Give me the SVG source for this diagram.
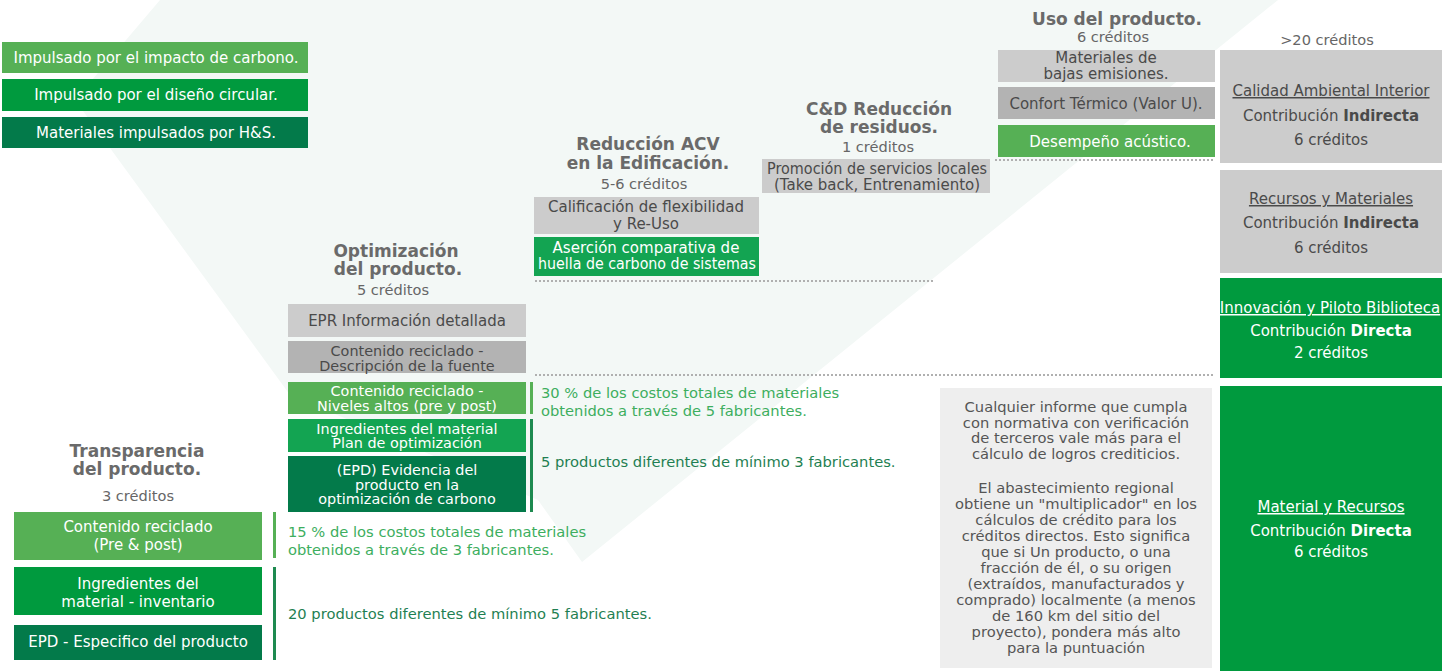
<svg xmlns="http://www.w3.org/2000/svg" width="1448" height="671" viewBox="0 0 1448 671">
<style>
text{font-family:"DejaVu Sans","Liberation Sans",sans-serif}
.hd{font-weight:bold;fill:#6a6a6a;font-size:17px;text-anchor:middle}
.cr{fill:#666;font-size:14.6px;text-anchor:middle}
.w{fill:#fff;font-size:15px;text-anchor:middle}
.g{fill:#4a4a4a;font-size:15px;text-anchor:middle}
.s{font-size:14.4px}
.lg{fill:#56b055}.mg{fill:#009a3e}.bg{fill:#13a452}.dg{fill:#037a4a}.lgr{fill:#cccccc}.dgr{fill:#b3b3b3}
.tl{fill:#3dae5e;font-size:14.7px}.td{fill:#1f7f52;font-size:14.7px}
.dot{stroke:#b0b0b0;stroke-width:2;stroke-dasharray:2 2;fill:none}
.nt{fill:#555;font-size:14.7px;text-anchor:middle}
.u{text-decoration:underline}
</style>
<rect width="1448" height="671" fill="#ffffff"/>
<polygon points="160,0 1278,0 582,562 538,500 290,395 75,100" fill="#f3f8f6"/>

<g id="legend">
<rect class="lg" x="2" y="42" width="306" height="31"/>
<text class="w" x="156" y="63">Impulsado por el impacto de carbono.</text>
<rect class="mg" x="2" y="79" width="306" height="32"/>
<text class="w" x="156" y="100">Impulsado por el diseño circular.</text>
<rect class="dg" x="2" y="117" width="306" height="31"/>
<text class="w" x="156" y="138">Materiales impulsados por H&amp;S.</text>
</g>

<g id="transparencia">
<text class="hd" x="137" y="457">Transparencia</text>
<text class="hd" x="137" y="475">del producto.</text>
<text class="cr" x="138" y="501">3 créditos</text>
<rect class="lg" x="14" y="512" width="248" height="48"/>
<text class="w" x="138" y="532">Contenido reciclado</text>
<text class="w" x="138" y="550">(Pre &amp; post)</text>
<rect class="mg" x="14" y="567" width="248" height="48"/>
<text class="w" x="138" y="589">Ingredientes del</text>
<text class="w" x="138" y="607">material - inventario</text>
<rect class="dg" x="14" y="625" width="248" height="35"/>
<text class="w" x="138" y="647">EPD - Especifico del producto</text>
</g>

<g id="transparencia-req">
<rect x="273" y="512" width="3" height="46" fill="#56b055"/>
<rect x="273" y="567" width="3" height="93" fill="#1e8a50"/>
<text class="tl" x="288" y="537">15 % de los costos totales de materiales</text>
<text class="tl" x="288" y="555">obtenidos a través de 3 fabricantes.</text>
<text class="td" x="288" y="619">20 productos diferentes de mínimo 5 fabricantes.</text>
</g>

<g id="optimizacion">
<text class="hd" x="396" y="257">Optimización</text>
<text class="hd" x="398" y="275">del producto.</text>
<text class="cr" x="393" y="295">5 créditos</text>
<rect class="lgr" x="288" y="304" width="238" height="33"/>
<text class="g" x="407" y="326">EPR Información detallada</text>
<rect class="dgr" x="288" y="341" width="238" height="32"/>
<text class="g s" x="407" y="356">Contenido reciclado -</text>
<text class="g s" x="407" y="370.5">Descripción de la fuente</text>
<rect class="lg" x="288" y="382" width="238" height="32"/>
<text class="w s" x="407" y="396">Contenido reciclado -</text>
<text class="w s" x="407" y="410.5">Niveles altos (pre y post)</text>
<rect class="bg" x="288" y="419" width="238" height="33"/>
<text class="w s" x="407" y="433.5">Ingredientes del material</text>
<text class="w s" x="407" y="448">Plan de optimización</text>
<rect class="dg" x="288" y="456" width="238" height="56"/>
<text class="w s" x="407" y="475">(EPD) Evidencia del</text>
<text class="w s" x="407" y="489.5">producto en la</text>
<text class="w s" x="407" y="504">optimización de carbono</text>
</g>

<g id="optimizacion-req">
<rect x="530" y="382" width="3" height="32" fill="#56b055"/>
<rect x="530" y="419" width="3" height="93" fill="#1e8a50"/>
<text class="tl" x="541" y="398">30 % de los costos totales de materiales</text>
<text class="tl" x="541" y="416">obtenidos a través de 5 fabricantes.</text>
<text class="td" x="541" y="467">5 productos diferentes de mínimo 3 fabricantes.</text>
</g>

<g id="reduccion-acv">
<text class="hd" x="648" y="150">Reducción ACV</text>
<text class="hd" x="648" y="169">en la Edificación.</text>
<text class="cr" x="644" y="189">5-6 créditos</text>
<rect class="lgr" x="534" y="197" width="225" height="37"/>
<text class="g" x="646" y="212">Calificación de flexibilidad</text>
<text class="g" x="646" y="228.5">y Re-Uso</text>
<rect class="bg" x="534" y="237" width="225" height="39"/>
<text class="w" x="646" y="253" font-size="14.5">Aserción comparativa de</text>
<text class="w" x="647" y="268.5" font-size="14" textLength="218" lengthAdjust="spacingAndGlyphs">huella de carbono de sistemas</text>
</g>

<g id="cd-residuos">
<text class="hd" x="879" y="115">C&amp;D Reducción</text>
<text class="hd" x="879" y="133">de residuos.</text>
<text class="cr" x="878" y="152">1 créditos</text>
<rect class="lgr" x="762" y="159" width="228" height="34"/>
<text class="g" x="877" y="174" font-size="14" textLength="220" lengthAdjust="spacingAndGlyphs">Promoción de servicios locales</text>
<text class="g" x="877" y="190" font-size="14">(Take back, Entrenamiento)</text>
</g>

<g id="uso-producto">
<text class="hd" x="1117" y="25">Uso del producto.</text>
<text class="cr" x="1113" y="42">6 créditos</text>
<rect class="lgr" x="998" y="50" width="217" height="32"/>
<text class="g" x="1106" y="63" font-size="13.5">Materiales de</text>
<text class="g" x="1106" y="78.5" font-size="13.5">bajas emisiones.</text>
<rect class="dgr" x="998" y="87" width="217" height="32"/>
<text class="g" x="1106" y="109">Confort Térmico (Valor U).</text>
<rect class="lg" x="998" y="125" width="217" height="32"/>
<text class="w" x="1110" y="147">Desempeño acústico.</text>
</g>

<g id="connectors">
<line class="dot" x1="535" y1="375" x2="1215" y2="375"/>
<line class="dot" x1="535" y1="281" x2="935" y2="281"/>
<line class="dot" x1="995" y1="160" x2="1215" y2="160"/>
</g>

<g id="nota">
<rect x="940" y="388" width="272" height="280" fill="#eeeeee"/>
<text class="nt" x="1076" y="412">Cualquier informe que cumpla</text>
<text class="nt" x="1076" y="427.5">con normativa con verificación</text>
<text class="nt" x="1076" y="443">de terceros vale más para el</text>
<text class="nt" x="1076" y="458.5">cálculo de logros crediticios.</text>
<text class="nt" x="1076" y="493">El abastecimiento regional</text>
<text class="nt" x="1076" y="509">obtiene un "multiplicador" en los</text>
<text class="nt" x="1076" y="525">cálculos de crédito para los</text>
<text class="nt" x="1076" y="541">créditos directos. Esto significa</text>
<text class="nt" x="1076" y="557">que si Un producto, o una</text>
<text class="nt" x="1076" y="573">fracción de él, o su origen</text>
<text class="nt" x="1076" y="589">(extraídos, manufacturados y</text>
<text class="nt" x="1076" y="605">comprado) localmente (a menos</text>
<text class="nt" x="1076" y="621">de 160 km del sitio del</text>
<text class="nt" x="1076" y="637">proyecto), pondera más alto</text>
<text class="nt" x="1076" y="653">para la puntuación</text>
</g>

<g id="creditos-totales">
<text class="cr" x="1327" y="45">&gt;20 créditos</text>
</g>

<g id="calidad-ambiental">
<rect class="lgr" x="1220" y="50" width="222" height="113"/>
<text class="g u" x="1331" y="96">Calidad Ambiental Interior</text>
<text class="g" x="1331" y="121">Contribución <tspan font-weight="bold">Indirecta</tspan></text>
<text class="g" x="1331" y="145">6 créditos</text>
</g>

<g id="recursos-materiales">
<rect class="lgr" x="1220" y="170" width="222" height="103"/>
<text class="g u" x="1331" y="204">Recursos y Materiales</text>
<text class="g" x="1331" y="228">Contribución <tspan font-weight="bold">Indirecta</tspan></text>
<text class="g" x="1331" y="253">6 créditos</text>
</g>

<g id="innovacion">
<rect class="mg" x="1220" y="278" width="222" height="100"/>
<text class="w u" x="1330" y="313" font-size="14.2">Innovación y Piloto Biblioteca</text>
<text class="w" x="1331" y="336">Contribución <tspan font-weight="bold">Directa</tspan></text>
<text class="w" x="1331" y="358">2 créditos</text>
</g>

<g id="material-recursos">
<rect class="mg" x="1220" y="386" width="222" height="285"/>
<text class="w u" x="1331" y="512">Material y Recursos</text>
<text class="w" x="1331" y="536">Contribución <tspan font-weight="bold">Directa</tspan></text>
<text class="w" x="1331" y="557">6 créditos</text>
</g>
</svg>
